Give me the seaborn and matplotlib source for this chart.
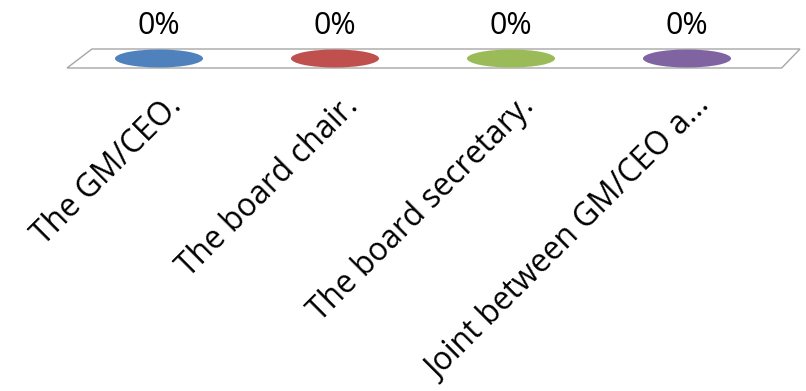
import numpy as np
import pandas as pd
import matplotlib
matplotlib.use("Agg")
import matplotlib.pyplot as plt
from matplotlib.path import Path
from matplotlib.patches import Polygon
from matplotlib.transforms import Affine2D
import seaborn as sns

# ---- data ----
categories = ["The GM/CEO.", "The board chair.", "The board secretary.", "Joint between GM/CEO a..."]
values = [0, 0, 0, 0]
value_labels = ["0%", "0%", "0%", "0%"]
colors = ["#4F81BD", "#C0504D", "#9BBB59", "#8064A2"]

sns.set_theme(style="white")
plt.rcParams["font.family"] = ["Open Sans", "DejaVu Sans"]

W, H = 806, 391
fig = plt.figure(figsize=(W / 100, H / 100), dpi=100)
# axes spanning the floor strip (pixel coords converted to figure fractions)
left_px, right_px, top_px, bot_px = 67, 800, 49, 68
ax = fig.add_axes([left_px / W, 1 - bot_px / H, (right_px - left_px) / W, (bot_px - top_px) / H])

df = pd.DataFrame({"category": categories, "value": values})
x_first_px, step_px = 159, 176
ax.set_xlim((left_px - x_first_px) / step_px, (right_px - x_first_px) / step_px)
ax.set_ylim(-1, 1)

# floor parallelogram (3D chart floor)
floor = Polygon([(0.034, 1.0), (1.0, 1.0), (0.975, 0.0), (0.0, 0.0)], closed=True,
                transform=ax.transAxes, facecolor="white", edgecolor="#a6a6a6",
                linewidth=1.0, zorder=1, clip_on=False)
ax.add_patch(floor)

# elliptical bar tops (value 0 -> only the cap shows)
circle = Path.unit_circle()
ellipse = Affine2D().scale(1.0, 0.205).transform_path(circle)
df["xpos"] = np.arange(len(categories))
sns.scatterplot(data=df, x="xpos", y="value", hue="category", palette=colors,
                marker=ellipse, s=4020, linewidth=0, legend=False, ax=ax, zorder=3,
                clip_on=False)

for i, lab in enumerate(value_labels):
    ax.annotate(lab, xy=(i, values[i]), xytext=(0, 23.5), textcoords="offset points",
                ha="center", va="center", fontsize=22, color="#000000")
    ax.annotate(categories[i], xy=(i, values[i]), xytext=(13, -31), textcoords="offset points",
                ha="right", va="center", rotation=45, rotation_mode="anchor",
                fontsize=22.8, color="#000000")

ax.set_axis_off()
fig.savefig("out.png", dpi=100, facecolor="white")
